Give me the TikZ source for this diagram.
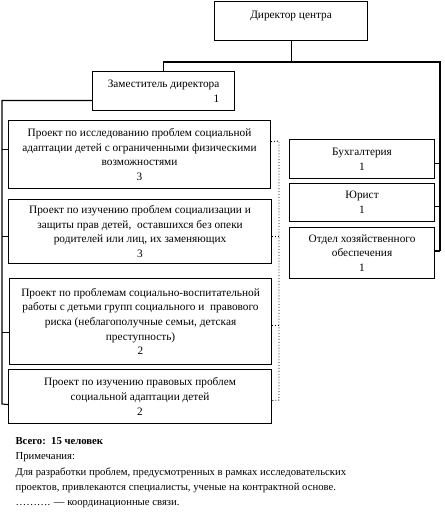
\documentclass[tikz,border=0pt]{standalone}
\usepackage{fontspec}
\setmainfont{Liberation Serif}
\usepackage{tikz}

\begin{document}
\begin{tikzpicture}[x=1pt, y=-1pt, line width=1.1pt,
    box/.style={draw, anchor=north west, align=center, inner sep=2pt,
      font=\fontsize{11.3}{14.7}\selectfont},
    coord/.style={dotted, line width=0.9pt}]
        \useasboundingbox (0,0) rectangle (444,513);
        % top
        \node[box, minimum width=153, minimum height=39] (dir) at (214,1) {Директор центра\\[-2pt]\mbox{}};
        \node[box, minimum width=142, minimum height=39, align=right] (dep) at (92,71) {Заместитель директора\\1};
        % projects
        \node[box, minimum width=262, minimum height=68] (prA) at (8,120) {Проект по исследованию проблем социальной\\адаптации детей с ограниченными физическими\\возможностями\\3};
        \node[box, minimum width=263, minimum height=64] (prB) at (8,199) {Проект по изучению проблем социализации и\\защиты прав детей,\ \ оставшихся без опеки\\родителей или лиц, их заменяющих\\3};
        \node[box, minimum width=262, minimum height=86] (prC) at (9,278) {Проект по проблемам социально-воспитательной\\работы с детьми групп социального и\ \ правового\\риска (неблагополучные семьи, детская\\преступность)\\2};
        \node[box, minimum width=263, minimum height=54] (prD) at (8,369) {Проект по изучению правовых проблем\\социальной адаптации детей\\2};
        % services
        \node[box, minimum width=145, minimum height=39] (buh) at (289,139) {Бухгалтерия\\1};
        \node[box, minimum width=145, minimum height=38] (jur) at (289,183) {Юрист\\1};
        \node[box, minimum width=145, minimum height=51] (oto) at (289,227) {Отдел хозяйственного\\обеспечения\\1};

        \coordinate (rtop) at (440,62);
        \coordinate (rbot) at (440,251);
        \coordinate (lbot) at (2,404);
        \coordinate (dtop) at (279,141);
        \coordinate (dbot) at (279,400);

        \draw (dir.south) -- (dir.south |- rtop);
        \draw (dep.north) |- (rtop) -- (rbot);
        \draw ([yshift=-4pt]buh.east) -- ([yshift=-4pt]buh.east -| rtop);
        \draw ([yshift=-4pt]jur.east) -- ([yshift=-4pt]jur.east -| rtop);
        \draw (rbot) -- (rbot -| oto.east);

        \draw ([yshift=-9.5pt]dep.west) -| (lbot) -- ([yshift=-8pt]prD.west);
        \draw ([yshift=5pt]prA.west) -- ([yshift=5pt]prA.west -| lbot);
        \draw ([yshift=-5pt]prB.west) -- ([yshift=-5pt]prB.west -| lbot);
        \draw ([yshift=-11pt]prC.west) -- ([yshift=-11pt]prC.west -| lbot);

        \draw[coord] ([yshift=13pt]prA.east) -- (dtop) -- (dbot) -- ([yshift=-4pt]prD.east);
        \draw[coord] ([yshift=-5pt]prB.east) -- ([yshift=-5pt]prB.east -| dtop);
        \draw[coord] ([yshift=-4pt]prC.east) -- ([yshift=-4pt]prC.east -| dtop);

        % notes
        \node[anchor=north west, align=left, inner sep=0pt,
          font=\fontsize{10.7}{15.2}\selectfont] (notes) at (15,437) {
          \textbf{Всего:\ \ 15 человек}\\
          Примечания:\\
          Для разработки проблем, предусмотренных в рамках исследовательских\\
          проектов, привлекаются специалисты, ученые на контрактной основе.\\
          ………. — координационные связи.
        };
      \end{tikzpicture}
\end{document}
